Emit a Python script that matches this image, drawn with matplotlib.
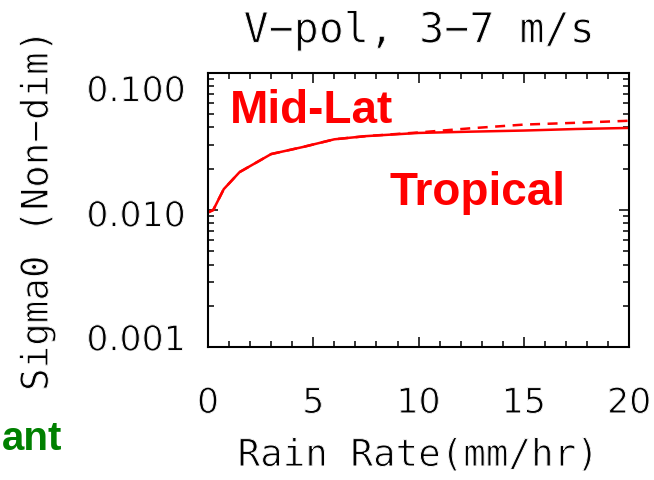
import matplotlib
matplotlib.use("Agg")
import matplotlib.pyplot as plt
import matplotlib.patheffects as pe
import matplotlib.transforms as mtransforms
from matplotlib.ticker import FixedLocator, LogLocator, MultipleLocator, NullFormatter

# rain rate (mm/hr) and sigma0 for the two climate regimes
rain_rate = [0, 0.25, 0.75, 1.5, 3, 4.5, 6, 7.5, 10, 12.5, 15, 17.5, 20]
sigma0_tropical = [0.0096, 0.0100, 0.0142, 0.0189, 0.0256, 0.0288, 0.0328,
                   0.0346, 0.0365, 0.0373, 0.0380, 0.0390, 0.0397]
sigma0_midlat = [0.0096, 0.0100, 0.0142, 0.0189, 0.0256, 0.0288, 0.0328,
                 0.0346, 0.0368, 0.0395, 0.0420, 0.0433, 0.0448]

y_ticks = [0.001, 0.01, 0.1]
y_ticklabels = ["0.001", "0.010", "0.100"]
x_ticks = [0, 5, 10, 15, 20]

MONO = "DejaVu Sans Mono"
SANS = "DejaVu Sans"
# shave the glyph edges a little so the text reads as a thin stroke font
thin = [pe.Normal(), pe.Stroke(linewidth=0.7, foreground="white")]

fig = plt.figure(figsize=(6.54, 4.8), dpi=100)
ax = fig.add_axes([0.318, 0.277, 0.644, 0.571])

ax.plot(rain_rate, sigma0_tropical, color="red", lw=1.8)
ax.plot(rain_rate, sigma0_midlat, color="red", lw=1.8, ls=(0, (4, 3)))

ax.set_yscale("log")
ax.set_xlim(0, 20)
ax.set_ylim(0.001, 0.1)

ax.xaxis.set_major_locator(FixedLocator(x_ticks))
ax.xaxis.set_minor_locator(MultipleLocator(1))
ax.set_xticklabels([str(t) for t in x_ticks], family=SANS, fontsize=25)
ax.yaxis.set_major_locator(FixedLocator(y_ticks))
ax.yaxis.set_minor_locator(LogLocator(base=10, subs=range(2, 10)))
ax.yaxis.set_minor_formatter(NullFormatter())
ax.set_yticklabels(y_ticklabels, family=SANS, fontsize=25)

ax.tick_params(which="both", direction="in", top=True, right=True, width=1.1,
               color="black")
ax.tick_params(which="major", length=7)
ax.tick_params(which="minor", length=4)
ax.tick_params(axis="x", pad=28)
ax.tick_params(axis="y", pad=16)
for sp in ax.spines.values():
    sp.set_linewidth(1.5)

# IDL-style label placement on the log axis
offsets = {0: 10, 1: -3, 2: -15}
for i, lab in enumerate(ax.get_yticklabels()):
    dy = offsets.get(i, 0) / 100.0
    lab.set_transform(lab.get_transform()
                      + mtransforms.ScaledTranslation(0, dy, fig.dpi_scale_trans))
for lab in ax.get_xticklabels() + ax.get_yticklabels():
    lab.set_path_effects(thin)

t = ax.set_title("V\u2212pol, 3\u22127 m/s", family=MONO, fontsize=30, pad=22)
xl = ax.set_xlabel("Rain Rate(mm/hr)", family=MONO, fontsize=27, labelpad=13)
yl = ax.set_ylabel("Sigma0 (Non\u2212dim)", family=MONO, fontsize=27, labelpad=22)
for txt in (t, xl, yl):
    txt.set_path_effects(thin)

ax.text(230 / 654, 1 - 123 / 480, "Mid-Lat", transform=fig.transFigure,
        color="red", fontsize=33, fontweight="bold", family="Liberation Sans",
        va="baseline")
ax.text(390 / 654, 1 - 205 / 480, "Tropical", transform=fig.transFigure,
        color="red", fontsize=33, fontweight="bold", family="Liberation Sans",
        va="baseline")
fig.text(2 / 654, 1 - 450 / 480, "ant", color="#008000", fontsize=29,
         fontweight="bold", family="Liberation Sans", ha="left", va="baseline")

fig.savefig("out.png", dpi=100)
